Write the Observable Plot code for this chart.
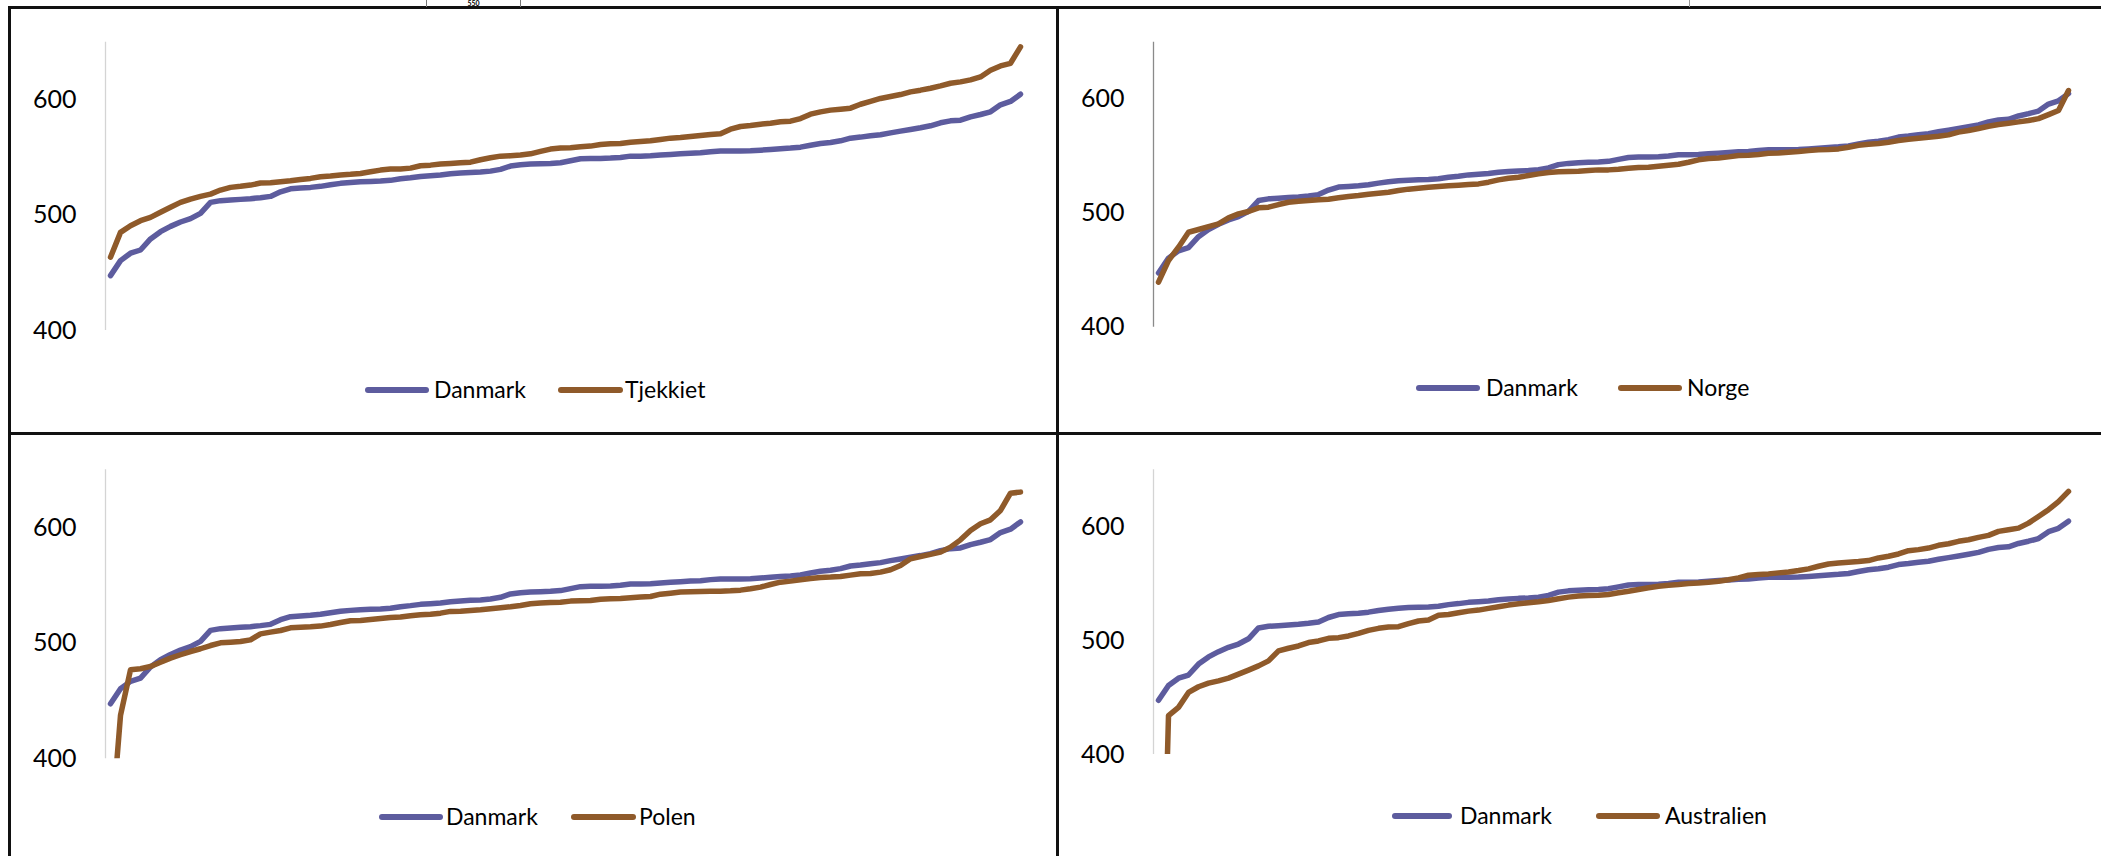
<!DOCTYPE html>
<html>
<head>
<meta charset="utf-8">
<script src="https://cdn.jsdelivr.net/npm/d3@7"></script>
<script src="https://cdn.jsdelivr.net/npm/@observablehq/plot@0.6"></script>
<style>
  html, body { margin: 0; padding: 0; background: #fff; }
  #page { position: relative; width: 2101px; height: 856px; overflow: hidden; background: #fff; font-family: Lato, "Open Sans", sans-serif; }
  #page svg { position: absolute; left: 0; top: 0; }
  .hline, .vline { position: absolute; background: #111; }
  .leg { position: absolute; font-family: Lato, sans-serif; font-size: 23px; color: #000; line-height: 1; white-space: nowrap; }
  .sw { position: absolute; height: 6px; border-radius: 3px; }
</style>
</head>
<body>
<div id="page"></div>
<script>
// ---------------- data (sorted values, one per rank) ----------------
const danmark = [447.6,460.6,467.0,469.8,479.4,485.7,490.3,494.1,497.0,501.6,
511.1,512.6,513.1,513.7,514.3,515.2,516.3,520.3,522.9,523.5,
524.1,525.0,526.4,527.6,528.4,529.0,529.3,529.6,530.2,531.6,
532.5,533.6,534.2,534.8,535.9,536.5,537.1,537.4,538.2,539.7,
542.6,543.7,544.3,544.6,544.9,545.5,547.2,548.9,549.2,549.2,
549.5,550.1,551.2,551.2,551.5,552.1,552.7,553.2,553.8,554.1,
555.0,555.6,555.6,555.6,555.8,556.4,557.0,557.6,558.2,559.0,
560.7,562.2,563.1,564.5,566.8,567.7,568.8,569.7,571.4,572.9,
574.3,575.8,577.5,580.1,581.8,582.4,585.3,587.3,589.6,595.7,
598.6,604.9];

const tjekkiet = [463.5,485.1,490.9,495.2,498.1,502.5,506.8,511.1,514.0,516.3,
518.3,521.8,524.1,525.0,526.1,527.9,528.1,529.0,529.9,531.0,
531.9,533.3,533.9,534.8,535.4,536.2,537.7,539.1,540.0,540.0,
540.8,542.9,543.4,544.3,544.9,545.5,546.0,548.1,549.8,551.2,
551.5,552.1,553.2,555.3,557.3,558.2,558.4,559.3,559.9,561.3,
561.9,562.2,563.3,563.9,564.5,565.7,566.8,567.4,568.3,569.1,
570.0,570.6,574.6,576.9,577.8,578.9,579.8,581.0,581.5,583.8,
587.6,589.6,591.1,591.9,592.8,596.2,598.6,601.2,602.9,604.6,
606.9,608.4,610.1,612.1,614.4,615.6,617.3,619.9,625.7,629.4,
631.7,645.9];

const norge = [439.5,458.5,470.2,483.3,485.7,488.3,490.6,495.9,499.4,501.5,
504.7,505.3,507.6,509.6,510.5,511.1,511.7,512.3,513.5,514.6,
515.5,516.7,517.5,518.4,519.9,521.1,521.9,522.8,523.4,524.0,
524.6,525.1,525.7,527.2,529.2,530.7,531.6,533.0,534.5,535.7,
536.3,536.5,536.8,537.4,538.0,538.0,538.6,539.5,540.1,540.4,
541.2,542.1,543.0,544.7,546.8,548.0,548.5,549.4,550.6,550.9,
551.5,552.6,552.9,553.5,554.1,555.0,555.6,555.8,556.4,557.9,
559.6,560.5,561.1,562.3,563.7,564.9,565.8,566.7,567.5,568.7,
571.1,572.5,574.3,576.3,577.8,578.9,580.1,581.3,583.0,586.5,
590.1,607.6];

const polen = [330,437.5,477.0,477.9,479.9,483.6,487.1,490.0,492.8,495.2,
498.0,500.3,500.9,501.5,502.9,508.1,509.6,511.0,513.3,513.9,
514.2,514.8,516.2,517.9,519.4,519.7,520.5,521.4,522.3,522.6,
523.7,524.6,525.1,526.0,527.5,527.7,528.3,528.9,529.8,530.6,
531.5,532.6,534.1,534.7,535.2,535.5,536.4,536.7,537.0,538.1,
538.4,538.7,539.3,539.9,540.4,542.4,543.3,544.2,544.5,544.8,
545.0,545.0,545.3,545.9,547.1,548.5,550.8,552.8,553.7,554.8,
556.0,556.9,557.2,557.7,558.9,560.0,560.3,561.5,563.5,567.2,
573.0,575.0,576.8,578.8,583.1,589.4,597.5,603.3,606.7,614.8,
629.8,630.7];

const australien = [100,434.1,441.4,454.5,459.5,462.7,464.7,467.1,470.6,474.1,
477.8,482.2,491.0,493.3,495.3,498.3,499.7,502.0,502.6,504.1,
506.4,509.0,510.8,512.0,512.2,514.9,517.2,518.1,522.2,523.0,
524.5,525.9,526.8,528.3,529.7,531.2,532.4,533.2,534.1,535.3,
536.7,538.2,539.1,539.7,539.9,540.5,542.0,543.4,544.9,546.4,
547.8,548.7,549.3,550.1,550.7,551.3,552.2,553.4,555.1,557.4,
558.0,558.6,559.5,560.3,561.5,563.0,565.3,567.3,568.2,568.8,
569.4,570.3,572.6,574.1,576.1,579.0,579.9,581.3,583.7,585.1,
587.2,588.6,590.7,592.4,595.9,597.4,598.8,603.2,609.0,615.0,
622.0,631.0];

const yTicks = [400, 500, 600];
const yDomain = [400, 650];
const baseName = "Danmark";
const panels = [
  {name: "Tjekkiet", values: tjekkiet},
  {name: "Norge", values: norge},
  {name: "Polen", values: polen},
  {name: "Australien", values: australien}
];

// ---------------- styling / layout ----------------
const PURPLE = "#5d5c9e";
const BROWN = "#8f5a2a";
const W = 2101, H = 856;
const layout = [
  {l: 105, r: 1025, t: 41.7, b: 330, axis: "#d4d4d4", pad: 29,
   leg: {s1: 365, s1w: 64, t1: 434, s2: 558, s2w: 65, t2: 625, y: 390}},
  {l: 1153, r: 2073, t: 41.7, b: 326.7, axis: "#8a8a8a", pad: 29,
   leg: {s1: 1416, s1w: 64, t1: 1486, s2: 1618, s2w: 64, t2: 1687, y: 388}},
  {l: 105, r: 1025, t: 469.3, b: 758.3, axis: "#d4d4d4", pad: 29,
   leg: {s1: 379, s1w: 64, t1: 446, s2: 571, s2w: 65, t2: 639, y: 817}},
  {l: 1153, r: 2073, t: 469.3, b: 754, axis: "#d4d4d4", pad: 29,
   leg: {s1: 1392, s1w: 60, t1: 1460, s2: 1596, s2w: 64, t2: 1665, y: 816}}
];

const page = document.getElementById("page");

function el(cls, css, text) {
  const d = document.createElement("div");
  d.className = cls;
  Object.assign(d.style, css);
  if (text != null) d.textContent = text;
  page.appendChild(d);
  return d;
}

panels.forEach((p, k) => {
  const L = layout[k];
  const n = danmark.length;
  const chart = Plot.plot({
    width: W, height: H,
    marginLeft: L.l, marginRight: W - L.r, marginTop: L.t, marginBottom: H - L.b,
    x: {domain: [-0.5, n - 0.5], axis: null},
    y: {domain: yDomain, axis: null},
    style: {background: "transparent", color: "#000", fontFamily: "Lato, sans-serif", overflow: "visible"},
    marks: [
      Plot.ruleX([-0.5], {y1: yDomain[0], y2: yDomain[1], stroke: L.axis, strokeWidth: 1.3}),
      Plot.axisY({ticks: yTicks, tickSize: 0, tickPadding: L.pad, fontSize: 25, label: null, fill: "#000"}),
      Plot.lineY(danmark, {x: (d, i) => i, y: d => d, stroke: PURPLE, strokeWidth: 5.5,
        strokeLinejoin: "round", strokeLinecap: "round", clip: true}),
      Plot.lineY(p.values, {x: (d, i) => i, y: d => d, stroke: BROWN, strokeWidth: 5.5,
        strokeLinejoin: "round", strokeLinecap: "round", clip: true})
    ]
  });
  page.appendChild(chart);

  const g = L.leg;
  el("sw", {left: g.s1 + "px", top: (g.y - 3) + "px", width: g.s1w + "px", background: PURPLE});
  el("leg", {left: g.t1 + "px", top: (g.y - 12) + "px"}, baseName);
  el("sw", {left: g.s2 + "px", top: (g.y - 3) + "px", width: g.s2w + "px", background: BROWN});
  el("leg", {left: g.t2 + "px", top: (g.y - 12) + "px"}, p.name);
});

// ---------------- cell borders ----------------
el("hline", {left: "8px", top: "6px", width: (W - 8) + "px", height: "3px"});
el("hline", {left: "8px", top: "432px", width: (W - 8) + "px", height: "3px"});
el("vline", {left: "8px", top: "6px", width: "3px", height: (H - 6) + "px"});
el("vline", {left: "1056px", top: "6px", width: "3px", height: (H - 6) + "px"});
// fragments of the cells above
el("vline", {left: "426px", top: "0px", width: "1px", height: "7px", background: "#777"});
el("vline", {left: "520px", top: "0px", width: "1px", height: "7px", background: "#777"});
el("vline", {left: "1689px", top: "0px", width: "1px", height: "7px", background: "#999"});
el("leg", {left: "427px", top: "0px", width: "93px", textAlign: "center", fontWeight: "bold", fontSize: "7px", lineHeight: "6px"}, "550");
</script>
</body>
</html>
